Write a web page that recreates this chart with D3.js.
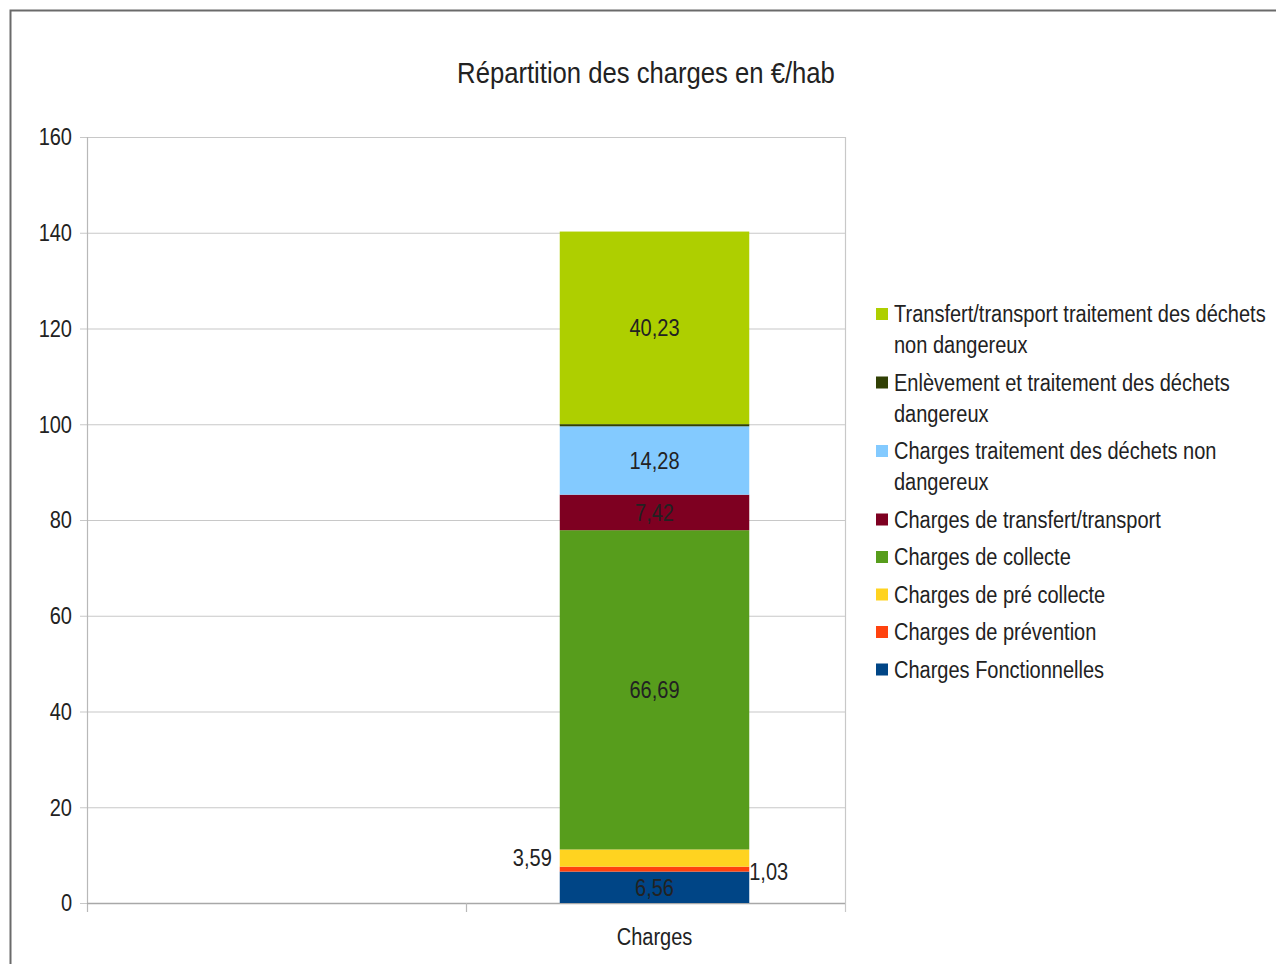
<!DOCTYPE html>
<html>
<head>
<meta charset="utf-8">
<script src="https://cdn.jsdelivr.net/npm/d3@7"></script>
<style>
  body { margin: 0; background: #fff; }
  text { font-family: "Liberation Sans", Arial, sans-serif; }
</style>
</head>
<body>
<div id="workspace"></div>
<script>
// data
var title = "Répartition des charges en €/hab";
var categories = ["", "Charges"];
var series = [
  "Charges Fonctionnelles",
  "Charges de prévention",
  "Charges de pré collecte",
  "Charges de collecte",
  "Charges de transfert/transport",
  "Charges traitement des déchets non dangereux",
  "Enlèvement et traitement des déchets dangereux",
  "Transfert/transport traitement des déchets non dangereux"
];
var values = [6.56, 1.03, 3.59, 66.69, 7.42, 14.28, 0.45, 40.23];
var labels = ["6,56", "1,03", "3,59", "66,69", "7,42", "14,28", "", "40,23"];
var colors = ["#004586", "#ff420e", "#ffd320", "#579d1c", "#7e0021", "#83caff", "#314004", "#aecf00"];
var yTicks = [0, 20, 40, 60, 80, 100, 120, 140, 160];

var W = 1276, H = 964;
var plot = {left: 87, right: 845, top: 137, bottom: 903};
var SX = 0.87; // squeeze to look like a narrow face

var svg = d3.select("#workspace")
  .append("svg")
  .attr("width", W)
  .attr("height", H);

// narrow text helper
function ntext(parent, x, y, str, size, anchor) {
  return parent.append("text")
    .attr("transform", "translate(" + x + "," + y + ") scale(" + SX + ",1)")
    .attr("text-anchor", anchor || "start")
    .attr("dy", "0.36em")
    .attr("font-size", size + "px")
    .attr("fill", "#222")
    .text(str);
}

// outer frame
svg.append("rect")
  .attr("x", 10.5)
  .attr("y", 10.5)
  .attr("width", W + 20)
  .attr("height", H + 20)
  .attr("fill", "#fff")
  .attr("stroke", "#6a6a6a")
  .attr("stroke-width", 2);

ntext(svg, 646, 72, title, 29.5, "middle");

var y = d3.scaleLinear().domain([0, 160]).range([plot.bottom, plot.top]);
var x = d3.scaleBand().domain(categories).range([plot.left, plot.right]).paddingInner(0).paddingOuter(0);

// grid
svg.append("g")
  .selectAll("line")
  .data(yTicks)
  .join("line")
  .attr("x1", plot.left - 7)
  .attr("x2", plot.right)
  .attr("y1", d => y(d) + 0.5)
  .attr("y2", d => y(d) + 0.5)
  .attr("stroke", "#c8c8c8")
  .attr("stroke-width", 1.2);

// plot sides
svg.append("line")
  .attr("x1", plot.left + 0.5).attr("x2", plot.left + 0.5)
  .attr("y1", plot.top).attr("y2", plot.bottom + 9)
  .attr("stroke", "#b8b8b8").attr("stroke-width", 1.2);
svg.append("line")
  .attr("x1", plot.right + 0.5).attr("x2", plot.right + 0.5)
  .attr("y1", plot.top).attr("y2", plot.bottom + 9)
  .attr("stroke", "#c8c8c8").attr("stroke-width", 1.2);

// y tick labels
var yl = svg.append("g");
yTicks.forEach(function(t) { ntext(yl, 72, y(t), t, 23, "end"); });

// x axis
svg.append("line")
  .attr("x1", plot.left).attr("x2", plot.right)
  .attr("y1", plot.bottom + 0.5).attr("y2", plot.bottom + 0.5)
  .attr("stroke", "#a8a8a8").attr("stroke-width", 1.4);
svg.append("g")
  .selectAll("line")
  .data(categories.slice(1))
  .join("line")
  .attr("x1", d => x(d) + 0.5).attr("x2", d => x(d) + 0.5)
  .attr("y1", plot.bottom).attr("y2", plot.bottom + 9)
  .attr("stroke", "#b8b8b8").attr("stroke-width", 1.2);
var xl = svg.append("g");
categories.forEach(function(c) { ntext(xl, x(c) + x.bandwidth() / 2 - 1, 937, c, 23, "middle"); });

// stacked segments
var cum = 0;
var segs = values.map(function(v, i) {
  var s = {i: i, y0: cum, y1: cum + v, v: v};
  cum += v;
  return s;
});
var barW = x.bandwidth() * 0.5;
var bx = x("Charges") + (x.bandwidth() - barW) / 2 - 1;

svg.append("g")
  .selectAll("rect")
  .data(segs)
  .join("rect")
  .attr("x", bx)
  .attr("width", barW)
  .attr("y", d => y(d.y1))
  .attr("height", d => y(d.y0) - y(d.y1))
  .attr("fill", d => colors[d.i]);

// value labels
var vl = svg.append("g");
segs.forEach(function(d) {
  if (labels[d.i] === "") return;
  var c = y((d.y0 + d.y1) / 2);
  if (d.i === 2) ntext(vl, bx - 8, c, labels[d.i], 23, "end");
  else if (d.i === 1) ntext(vl, bx + barW, c + 3, labels[d.i], 23, "start");
  else ntext(vl, bx + barW / 2, c, labels[d.i], 23, "middle");
});

// legend (top entry = last series)
var legend = svg.append("g");
var lx = 876, ly = 314, maxW = 380;
var order = d3.range(series.length).reverse();
order.forEach(function(i) {
  var t = ntext(legend, lx + 18, ly, "", 23, "start").attr("dy", null);
  // wrap words
  var words = series[i].split(" ");
  var lines = [], cur = "";
  words.forEach(function(w) {
    var test = cur ? cur + " " + w : w;
    t.text(test);
    if (t.node().getComputedTextLength() * SX > maxW && cur) {
      lines.push(cur);
      cur = w;
    } else {
      cur = test;
    }
  });
  lines.push(cur);
  t.text(null);
  lines.forEach(function(l, k) {
    t.append("tspan")
      .attr("x", 0)
      .attr("y", k * 31)
      .attr("dy", "0.36em")
      .text(l);
  });
  legend.append("rect")
    .attr("x", lx)
    .attr("y", ly - 6)
    .attr("width", 12)
    .attr("height", 12)
    .attr("fill", colors[i]);
  ly += (lines.length - 1) * 31 + 37.5;
});
</script>
</body>
</html>
